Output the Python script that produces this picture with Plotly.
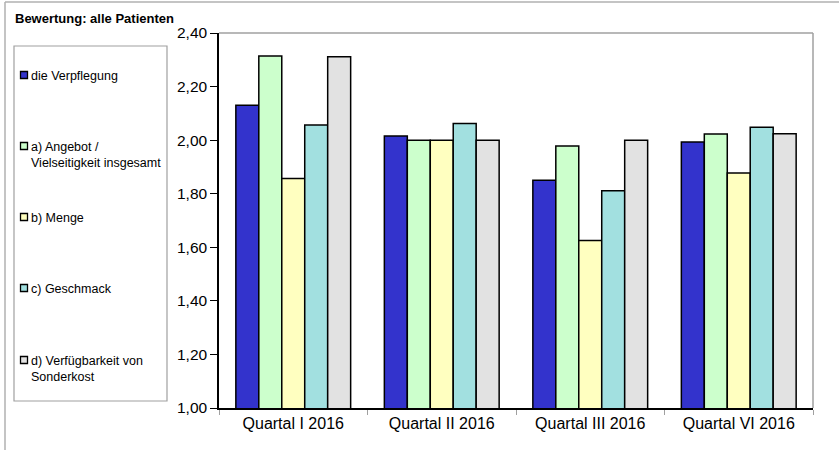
import plotly.graph_objects as go

categories = ["Quartal I 2016", "Quartal II 2016", "Quartal III 2016", "Quartal VI 2016"]
series_names = [
    "die Verpflegung",
    "a) Angebot /<br>Vielseitigkeit insgesamt",
    "b) Menge",
    "c) Geschmack",
    "d) Verfügbarkeit von<br>Sonderkost",
]
verpflegung = [2.13, 2.015, 1.85, 1.993]
angebot = [2.314, 2.00, 1.978, 2.023]
menge = [1.857, 2.00, 1.625, 1.877]
geschmack = [2.057, 2.062, 1.811, 2.048]
sonderkost = [2.311, 2.00, 2.00, 2.024]
series_values = [verpflegung, angebot, menge, geschmack, sonderkost]
colors = ["#3333cc", "#ccffcc", "#ffffc0", "#a2e0e0", "#e2e2e2"]
y_ticks = [1.0, 1.2, 1.4, 1.6, 1.8, 2.0, 2.2, 2.4]

W, H = 839, 450
L, R, T, B = 219, 813, 33, 408
FONT = "Liberation Sans, Arial, Helvetica, sans-serif"

def px(x):
    return (x - L) / (R - L)

def py(y):
    return (B - y) / (B - T)

fig = go.Figure()
for name, vals, col in zip(series_names, series_values, colors):
    fig.add_trace(go.Bar(
        x=categories, y=vals, name=name.replace("<br>", " "),
        marker=dict(color=col, line=dict(color="#000000", width=1.5)),
        showlegend=False,
    ))

shapes = []
annotations = []
# plot area top/right gray borders
shapes.append(dict(type="line", xref="paper", yref="paper", x0=0, x1=1, y0=1, y1=1,
                   line=dict(color="#a0a0a0", width=1.5)))
shapes.append(dict(type="line", xref="paper", yref="paper", x0=1, x1=1, y0=0, y1=1,
                   line=dict(color="#a0a0a0", width=1.5)))
# outer chart frame (left and top)
shapes.append(dict(type="line", xref="paper", yref="paper", x0=px(5), x1=px(W), y0=py(2), y1=py(2),
                   line=dict(color="#b0b0b0", width=1.5)))
shapes.append(dict(type="line", xref="paper", yref="paper", x0=px(5), x1=px(5), y0=py(2), y1=py(H),
                   line=dict(color="#b0b0b0", width=1.5)))
# legend box
shapes.append(dict(type="rect", xref="paper", yref="paper", x0=px(14), x1=px(167), y0=py(46), y1=py(401),
                   line=dict(color="#a0a0a0", width=1.2), fillcolor="rgba(0,0,0,0)"))

centers = [75, 146, 217, 288, 360]
for name, col, c in zip(series_names, colors, centers):
    shapes.append(dict(type="rect", xref="paper", yref="paper",
                       x0=px(20.5), x1=px(27.5), y0=py(c - 3.5), y1=py(c + 3.5),
                       fillcolor=col, line=dict(color="#000000", width=1.3)))
    annotations.append(dict(xref="paper", yref="paper", x=px(29), y=py(c - 8),
                            xanchor="left", yanchor="top", align="left", showarrow=False,
                            text=name, font=dict(family=FONT, size=12.5, color="#000000")))

annotations.append(dict(xref="paper", yref="paper", x=px(13), y=py(19), xanchor="left", yanchor="middle",
                        showarrow=False, text="<b>Bewertung: alle Patienten</b>",
                        font=dict(family=FONT, size=13, color="#000000")))

fig.update_layout(
    width=W, height=H,
    margin=dict(l=L, r=W - R, t=T, b=H - B, pad=0),
    paper_bgcolor="white", plot_bgcolor="white",
    barmode="group", bargap=0.227, bargroupgap=0,
    separators=",.",
    font=dict(family=FONT, color="#000000"),
    shapes=shapes, annotations=annotations,
    xaxis=dict(type="category", showline=True, linecolor="#000000", linewidth=1.5,
               ticks="outside", tickson="boundaries", ticklen=5, tickcolor="#a0a0a0",
               showgrid=False, tickfont=dict(size=16, family=FONT)),
    yaxis=dict(range=[1.0, 2.4], tickvals=y_ticks, tickformat=".2f", showline=True,
               linecolor="#000000", linewidth=1.5, ticks="outside", ticklen=7,
               tickcolor="#000000", showgrid=False, zeroline=False,
               tickfont=dict(size=15.5, family=FONT)),
)

fig.write_html("out.html", config={"displayModeBar": False},
               post_script="document.body.style.margin='0';document.body.style.overflow='hidden';")
